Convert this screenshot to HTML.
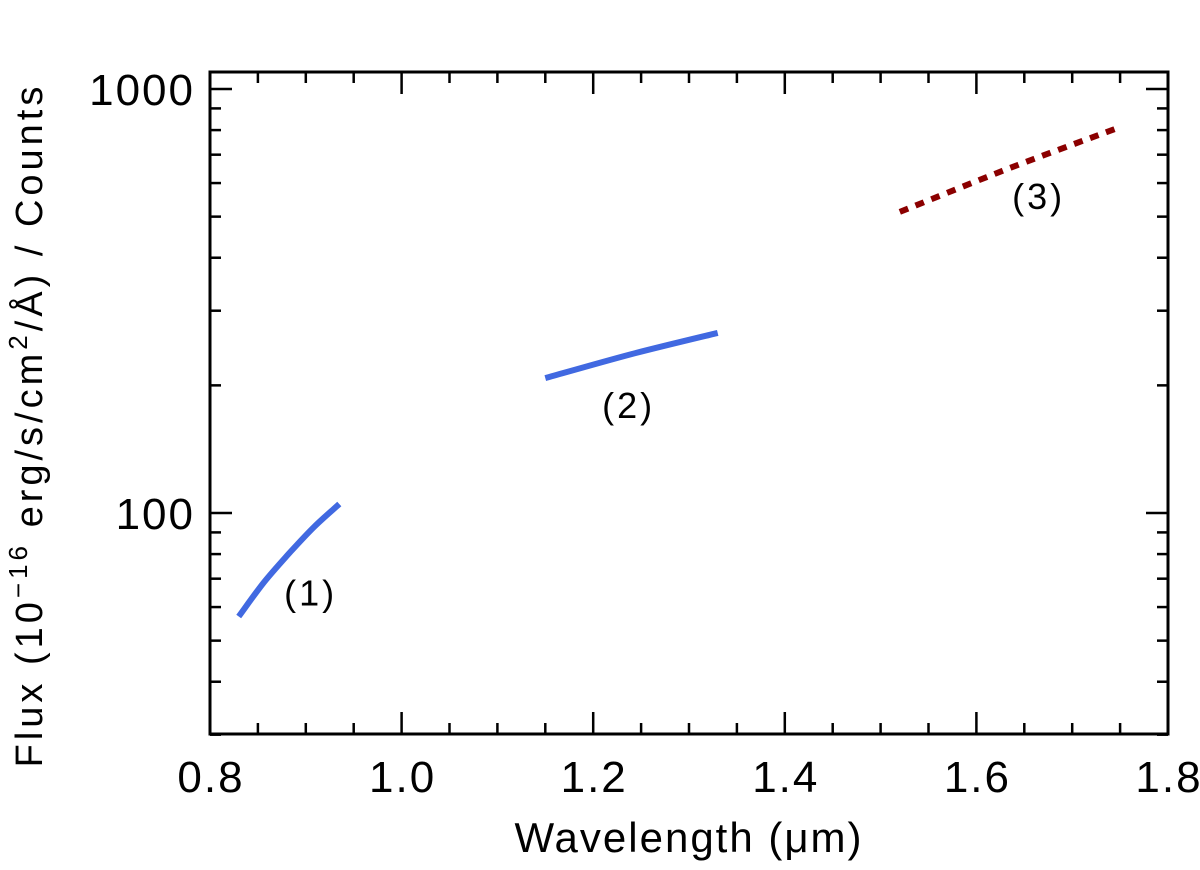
<!DOCTYPE html>
<html><head><meta charset="utf-8"><style>
html,body{margin:0;padding:0;background:#fff;}
svg{display:block;font-family:"Liberation Sans",sans-serif;}
</style></head><body>
<svg id="chart" width="1200" height="870" viewBox="0 0 1200 870">
<g id="plot"></g>
</svg>
<script>
const xTicks=[0.8,1.0,1.2,1.4,1.6,1.8];
const xTickLabels=["0.8","1.0","1.2","1.4","1.6","1.8"];
const yMajor=[100,1000];
const yMajorLabels=["100","1000"];
const yMinor=[30,40,50,60,70,80,90,200,300,400,500,600,700,800,900];
const s1x=[0.83,0.856,0.883,0.909,0.935];
const s1y=[57,68.5,80.5,92.9,105];
const s2x=[1.15,1.24,1.33];
const s2y=[208,237,266];
const s3x=[1.52,1.635,1.75];
const s3y=[513,651,813];
const labels=["(1)","(2)","(3)"];
const labelX=[0.905,1.237,1.665];
const labelY=[65,180,560];

const L=210,R=1168,T=72,B=734;
const X=v=>L+(v-0.8)/(1.0)*(R-L);
const Y=v=>513-(Math.log10(v)-2)*424;
const NS="http://www.w3.org/2000/svg";
const g=document.getElementById('plot');
function mk(t,a){const e=document.createElementNS(NS,t);for(const k in a)e.setAttribute(k,a[k]);g.appendChild(e);return e;}

const frame=mk('rect',{x:L,y:T,width:R-L,height:B-T,fill:'none',stroke:'#000','stroke-width':3});



for(let v=0.85;v<1.8;v+=0.05){
  const major=xTicks.some(t=>Math.abs(t-v)<1e-6);
  const len=major?22:11;
  const t1=mk('line',{x1:X(v),x2:X(v),y1:B,y2:B-len,stroke:'#000','stroke-width':2.5});
  
  
  const t2=mk('line',{x1:X(v),x2:X(v),y1:T,y2:T+len,stroke:'#000','stroke-width':2.5});
  
  
}
xTicks.forEach((v,i)=>{
  const t=mk('text',{x:X(v)+1,y:792,'text-anchor':'middle','font-size':44,fill:'#000','letter-spacing':2});
  t.textContent=xTickLabels[i];
  
  
});
yMajor.forEach((v,i)=>{
  const a=mk('line',{x1:L,x2:L+22,y1:Y(v),y2:Y(v),stroke:'#000','stroke-width':2.5});
  
  
  const b=mk('line',{x1:R,x2:R-22,y1:Y(v),y2:Y(v),stroke:'#000','stroke-width':2.5});
  
  
  const t=mk('text',{x:195,y:Y(v)+16,'text-anchor':'end','font-size':44,fill:'#000','letter-spacing':2});
  t.textContent=yMajorLabels[i];
  
  
});
yMinor.forEach(v=>{
  const a=mk('line',{x1:L,x2:L+11,y1:Y(v),y2:Y(v),stroke:'#000','stroke-width':2.5});
  
  
  const b=mk('line',{x1:R,x2:R-11,y1:Y(v),y2:Y(v),stroke:'#000','stroke-width':2.5});
  
  
});
function path(xs,ys){
  const p=xs.map((x,i)=>[X(x),Y(ys[i])]);
  let d='M'+p[0][0].toFixed(1)+','+p[0][1].toFixed(1);
  for(let i=0;i<p.length-1;i++){
    const p0=p[Math.max(i-1,0)],p1=p[i],p2=p[i+1],p3=p[Math.min(i+2,p.length-1)];
    const c1=[p1[0]+(p2[0]-p0[0])/6,p1[1]+(p2[1]-p0[1])/6];
    const c2=[p2[0]-(p3[0]-p1[0])/6,p2[1]-(p3[1]-p1[1])/6];
    d+=' C'+c1.map(v=>v.toFixed(1)).join(',')+' '+c2.map(v=>v.toFixed(1)).join(',')+' '+p2.map(v=>v.toFixed(1)).join(',');
  }
  return d;
}
const p1=mk('path',{d:path(s1x,s1y),fill:'none',stroke:'#4169e1','stroke-width':6});


const p2=mk('path',{d:path(s2x,s2y),fill:'none',stroke:'#4169e1','stroke-width':6});


const p3=mk('path',{d:path(s3x,s3y),fill:'none',stroke:'#8b0000','stroke-width':6,'stroke-dasharray':'9 8'});


labels.forEach((s,i)=>{
  const t=mk('text',{x:X(labelX[i]),y:Y(labelY[i])+13,'text-anchor':'middle','font-size':36,fill:'#000','letter-spacing':3});
  t.textContent=s;
  
  
});
const xt=mk('text',{x:689,y:852,'text-anchor':'middle','font-size':42,fill:'#000','letter-spacing':2});
xt.textContent='Wavelength (μm)';


const yt=mk('text',{x:0,y:0,'text-anchor':'middle','font-size':38,fill:'#000','letter-spacing':4,transform:'translate(42,425) rotate(-90)'});
yt.innerHTML='Flux (10<tspan dy="-15" font-size="26">−16</tspan><tspan dy="15"> erg/s/cm</tspan><tspan dy="-15" font-size="26">2</tspan><tspan dy="15">/Å) / Counts</tspan>';


</script>
</body></html>
